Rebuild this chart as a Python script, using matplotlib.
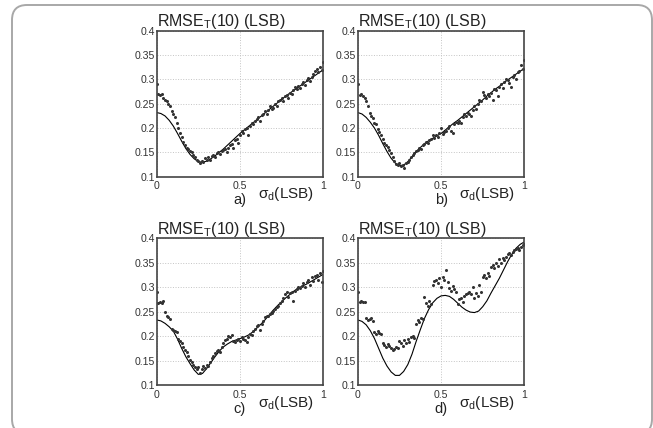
import numpy as np
import matplotlib
matplotlib.use("Agg")
import matplotlib.pyplot as plt
from matplotlib.patches import FancyBboxPatch
from matplotlib.transforms import IdentityTransform

plt.rcParams['font.family'] = ['Liberation Sans', 'DejaVu Sans']
plt.rcParams['mathtext.fontset'] = 'custom'
plt.rcParams['mathtext.rm'] = 'Liberation Sans'

# simulated points, sigma_d = 0 ... 1 step 0.01
sim_x = np.round(np.arange(0, 101) * 0.01, 2)
sim_a = [0.290, 0.270, 0.268, 0.270, 0.262, 0.258, 0.255, 0.250, 0.245, 0.235,
         0.228, 0.222, 0.210, 0.200, 0.190, 0.182, 0.172, 0.165, 0.160, 0.158,
         0.152, 0.150, 0.145, 0.140, 0.135, 0.133, 0.128, 0.132, 0.130, 0.138,
         0.135, 0.140, 0.134, 0.142, 0.145, 0.140, 0.148, 0.150, 0.146, 0.152,
         0.155, 0.158, 0.150, 0.160, 0.166, 0.168, 0.160, 0.176, 0.178, 0.170,
         0.185, 0.195, 0.190, 0.198, 0.200, 0.185, 0.205, 0.210, 0.208, 0.214,
         0.218, 0.222, 0.215, 0.226, 0.230, 0.235, 0.228, 0.238, 0.245, 0.240,
         0.242, 0.250, 0.246, 0.255, 0.258, 0.262, 0.255, 0.265, 0.268, 0.262,
         0.272, 0.270, 0.278, 0.285, 0.280, 0.286, 0.282, 0.290, 0.295, 0.288,
         0.298, 0.302, 0.296, 0.305, 0.312, 0.318, 0.322, 0.315, 0.325, 0.320,
         0.335]
sim_b = [0.290, 0.268, 0.270, 0.266, 0.262, 0.255, 0.245, 0.232, 0.225, 0.220,
         0.210, 0.208, 0.198, 0.192, 0.185, 0.178, 0.170, 0.165, 0.162, 0.155,
         0.148, 0.140, 0.132, 0.126, 0.124, 0.128, 0.122, 0.125, 0.118, 0.128,
         0.130, 0.135, 0.140, 0.145, 0.148, 0.152, 0.155, 0.160, 0.158, 0.165,
         0.168, 0.172, 0.170, 0.175, 0.178, 0.185, 0.180, 0.186, 0.182, 0.190,
         0.200, 0.188, 0.192, 0.195, 0.200, 0.205, 0.195, 0.190, 0.208, 0.212,
         0.210, 0.215, 0.210, 0.222, 0.228, 0.225, 0.232, 0.230, 0.225, 0.238,
         0.245, 0.240, 0.250, 0.258, 0.255, 0.275, 0.268, 0.262, 0.270, 0.265,
         0.272, 0.258, 0.280, 0.278, 0.265, 0.285, 0.290, 0.282, 0.295, 0.300,
         0.298, 0.292, 0.285, 0.305, 0.310, 0.300, 0.315, 0.318, 0.330, 0.322,
         0.340]
sim_c = [0.290, 0.268, 0.270, 0.268, 0.272, 0.250, 0.242, 0.238, 0.235, 0.215,
         0.213, 0.210, 0.208, 0.195, 0.190, 0.185, 0.178, 0.172, 0.168, 0.160,
         0.152, 0.148, 0.142, 0.138, 0.132, 0.138, 0.125, 0.132, 0.140, 0.135,
         0.142, 0.140, 0.148, 0.155, 0.160, 0.165, 0.170, 0.172, 0.168, 0.178,
         0.185, 0.192, 0.195, 0.200, 0.198, 0.202, 0.190, 0.188, 0.192, 0.195,
         0.190, 0.198, 0.195, 0.192, 0.188, 0.198, 0.205, 0.202, 0.210, 0.215,
         0.220, 0.222, 0.212, 0.225, 0.230, 0.238, 0.240, 0.242, 0.245, 0.248,
         0.252, 0.255, 0.260, 0.262, 0.268, 0.272, 0.278, 0.285, 0.290, 0.280,
         0.288, 0.290, 0.272, 0.292, 0.295, 0.300, 0.298, 0.302, 0.308, 0.300,
         0.310, 0.315, 0.305, 0.320, 0.312, 0.322, 0.325, 0.315, 0.328, 0.310,
         0.332]
sim_d = [0.290, 0.270, 0.271, 0.269, 0.270, 0.236, 0.233, 0.234, 0.237, 0.231,
         0.208, 0.205, 0.210, 0.206, 0.204, 0.186, 0.182, 0.178, 0.184, 0.180,
         0.176, 0.172, 0.174, 0.178, 0.175, 0.190, 0.185, 0.180, 0.192, 0.186,
         0.195, 0.188, 0.198, 0.200, 0.196, 0.225, 0.232, 0.228, 0.236, 0.234,
         0.280, 0.268, 0.262, 0.272, 0.265, 0.305, 0.312, 0.315, 0.308, 0.318,
         0.300, 0.320, 0.315, 0.335, 0.310, 0.298, 0.292, 0.302, 0.295, 0.290,
         0.265, 0.275, 0.278, 0.270, 0.282, 0.285, 0.288, 0.290, 0.286, 0.300,
         0.278, 0.288, 0.282, 0.305, 0.290, 0.320, 0.325, 0.318, 0.328, 0.322,
         0.340, 0.345, 0.338, 0.348, 0.342, 0.358, 0.350, 0.360, 0.355, 0.362,
         0.368, 0.370, 0.366, 0.372, 0.375, 0.378, 0.380, 0.375, 0.382, 0.385,
         0.388]

# theoretical curves, sigma_d = 0 ... 1 step 0.025
th_x = np.round(np.arange(0, 41) * 0.025, 3)
th_a = [0.232, 0.230, 0.225, 0.216, 0.204, 0.189, 0.173, 0.158, 0.146, 0.137,
        0.131, 0.130, 0.132, 0.137, 0.143, 0.150, 0.157, 0.165, 0.173, 0.181,
        0.189, 0.196, 0.203, 0.210, 0.217, 0.224, 0.231, 0.238, 0.245, 0.252,
        0.259, 0.266, 0.272, 0.278, 0.284, 0.290, 0.296, 0.302, 0.308, 0.314,
        0.320]
th_b = [0.232, 0.229, 0.222, 0.212, 0.200, 0.185, 0.168, 0.152, 0.138, 0.128,
        0.123, 0.124, 0.131, 0.141, 0.151, 0.160, 0.168, 0.174, 0.179, 0.184,
        0.189, 0.196, 0.203, 0.210, 0.216, 0.223, 0.230, 0.237, 0.244, 0.251,
        0.258, 0.266, 0.273, 0.280, 0.286, 0.293, 0.299, 0.305, 0.311, 0.317,
        0.323]
th_c = [0.233, 0.231, 0.226, 0.219, 0.210, 0.194, 0.175, 0.158, 0.144, 0.131,
        0.122, 0.124, 0.134, 0.146, 0.158, 0.169, 0.178, 0.184, 0.189, 0.192,
        0.195, 0.198, 0.202, 0.208, 0.216, 0.224, 0.233, 0.243, 0.253, 0.262,
        0.270, 0.278, 0.285, 0.292, 0.298, 0.302, 0.306, 0.311, 0.316, 0.321,
        0.326]
th_d = [0.233, 0.230, 0.223, 0.211, 0.195, 0.175, 0.155, 0.139, 0.127, 0.120,
        0.120, 0.128, 0.142, 0.163, 0.189, 0.213, 0.236, 0.254, 0.268, 0.277,
        0.282, 0.283, 0.281, 0.275, 0.267, 0.259, 0.253, 0.249, 0.248, 0.251,
        0.260, 0.272, 0.288, 0.303, 0.318, 0.335, 0.352, 0.367, 0.379, 0.387,
        0.392]

panel_names = ['a)', 'b)', 'c)', 'd)']
y_ticks = [0.1, 0.15, 0.2, 0.25, 0.3, 0.35, 0.4]
y_labels = ['0.1', '0.15', '0.2', '0.25', '0.3', '0.35', '0.4']
x_ticks = [0, 0.5, 1]
x_labels = ['0', '0.5', '1']

fig = plt.figure(figsize=(6.53, 4.28), dpi=100)

# rounded frame round the whole figure (pixel coords)
frame = FancyBboxPatch((12, -6), 640, 429, boxstyle="round,pad=0,rounding_size=15",
                       transform=IdentityTransform(), facecolor='none',
                       edgecolor='#a8a8a8', linewidth=1.4)
fig.add_artist(frame)

positions = [[0.240, 0.587, 0.255, 0.341],
             [0.548, 0.587, 0.255, 0.341],
             [0.240, 0.100, 0.255, 0.344],
             [0.548, 0.100, 0.255, 0.344]]
sims = [sim_a, sim_b, sim_c, sim_d]
theories = [th_a, th_b, th_c, th_d]

for pos, sim, th, name in zip(positions, sims, theories, panel_names):
    ax = fig.add_axes(pos)
    ax.plot(th_x, th, color='black', lw=0.8)
    ax.plot(sim_x, sim, '.', color='#333333', ms=2.4)
    ax.set_xlim(0, 1)
    ax.set_ylim(0.1, 0.4)
    ax.set_xticks(x_ticks)
    ax.set_xticklabels(x_labels)
    ax.set_yticks(y_ticks)
    ax.set_yticklabels(y_labels)
    ax.tick_params(length=0, labelsize=7.6, labelcolor='#333333')
    ax.tick_params(axis='y', pad=1.2)
    ax.tick_params(axis='x', pad=3.2)
    ax.grid(True, linestyle=':', color='#c4c4c4', lw=0.7)
    for s in ax.spines.values():
        s.set_color('#444444')
        s.set_linewidth(1.2)
    ax.text(0.0, 1.03, r'RMSE$_\mathregular{T}$(10) (LSB)', transform=ax.transAxes,
            ha='left', va='baseline', fontsize=11.5, color='#222222')
    ax.text(0.61, -0.146, r'σ$_\mathregular{d}$(LSB)', transform=ax.transAxes,
            ha='left', va='baseline', fontsize=11, color='#222222')
    ax.text(0.5, -0.186, name, transform=ax.transAxes,
            ha='center', va='baseline', fontsize=10.5, color='#222222')

fig.savefig('out.png', dpi=100)
